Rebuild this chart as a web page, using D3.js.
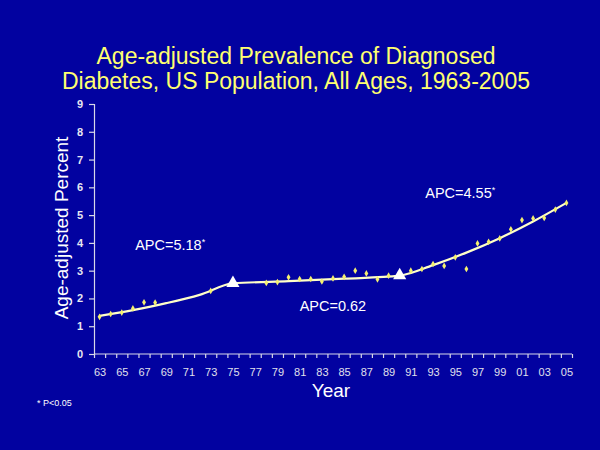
<!DOCTYPE html>
<html><head><meta charset="utf-8">
<script src="https://cdn.jsdelivr.net/npm/d3@7"></script>
<style>html,body{margin:0;padding:0;background:#0404a0;}svg{display:block;}</style>
</head><body>
<svg id="c" width="600" height="450"></svg>
<script>
// Observed age-adjusted prevalence (%)
const obsYears = [1963,1964,1965,1966,1967,1968,1973,1978,1979,1980,1981,1982,1983,1984,1985,1986,1987,1988,1989,1991,1992,1993,1994,1995,1996,1997,1998,1999,2000,2001,2002,2003,2004,2005];
const obsValues = [1.34,1.44,1.49,1.64,1.86,1.85,2.27,2.56,2.59,2.76,2.70,2.70,2.61,2.72,2.78,3.00,2.90,2.69,2.82,3.00,3.06,3.24,3.17,3.48,3.06,3.98,4.04,4.16,4.49,4.82,4.88,4.90,5.20,5.44];
// Joinpoint fitted line
const fitYears = [1963,1966,1969,1972,1975,1980,1985,1990,1993,1996,1999,2002,2005];
const fitValues = [1.37,1.58,1.83,2.13,2.54,2.62,2.71,2.82,3.20,3.65,4.17,4.77,5.44];
// Joinpoints
const jpYears = [1975,1990];
const jpValues = [2.55,2.83];
// Labels
const yTicks = [0,1,2,3,4,5,6,7,8,9];
const xLabelYears = d3.range(1963,2006,2);
const apcLabels = [
  {text:"APC=5.18", star:true, year:1966.2, value:3.75},
  {text:"APC=0.62", star:false, year:1981, value:1.55},
  {text:"APC=4.55", star:true, year:1992.3, value:5.6}
];
const titleLines = ["Age-adjusted Prevalence of Diagnosed","Diabetes, US Population, All Ages, 1963-2005"];

const svg = d3.select("#c");
const font = "'Liberation Sans', Arial, sans-serif";
svg.append("rect").attr("width",600).attr("height",450).attr("fill","#0202a0");

const x = d3.scaleLinear().domain([1962.5,2005.5]).range([94,572]);
const y = d3.scaleLinear().domain([0,9]).range([354,104]);
const axisCol = "#d8d8e8";

// Title
svg.selectAll("text.title").data(titleLines).enter().append("text")
  .attr("x",296).attr("y",(d,i)=>64+i*25).attr("text-anchor","middle")
  .attr("font-family",font).attr("font-size",23).attr("fill","#ffff70").text(d=>d);

// Y axis
const yAxis = d3.axisLeft(y).tickValues(yTicks).tickSize(5).tickPadding(6).tickFormat(d3.format("d"));
const gy = svg.append("g").attr("transform","translate(94,0)").call(yAxis);
gy.select(".domain").attr("stroke",axisCol).attr("stroke-width",1.2);
gy.selectAll(".tick line").attr("stroke",axisCol).attr("stroke-width",1.2);
gy.selectAll(".tick text").attr("fill","#e8e8f0").attr("font-family",font).attr("font-size",11).attr("font-weight","bold");

// X axis: boundaries ticks
const xAxisTicks = d3.axisBottom(x).tickValues(d3.range(1962.5,2006,1)).tickSize(4).tickFormat("");
const gx = svg.append("g").attr("transform","translate(0,354)").call(xAxisTicks);
gx.select(".domain").attr("stroke",axisCol).attr("stroke-width",1.2).attr("d","M94,0H572");
gx.selectAll(".tick line").attr("stroke",axisCol).attr("stroke-width",1.2);
const xLab = d3.axisBottom(x).tickValues(xLabelYears).tickSize(0).tickPadding(14)
  .tickFormat(d=>String(d%100).padStart(2,"0"));
const gxl = svg.append("g").attr("transform","translate(0,354)").call(xLab);
gxl.select(".domain").remove();
gxl.selectAll(".tick text").attr("fill","#e0e0ec").attr("font-family",font).attr("font-size",11);

// Axis titles
svg.append("text").attr("transform","translate(68,228) rotate(-90)").attr("text-anchor","middle")
  .attr("font-family",font).attr("font-size",19).attr("fill","#ffffff").text("Age-adjusted Percent");
svg.append("text").attr("x",331).attr("y",397).attr("text-anchor","middle")
  .attr("font-family",font).attr("font-size",19).attr("fill","#ffffff").text("Year");

// Fitted line
const line = d3.line().x((d,i)=>x(fitYears[i])).y(d=>y(d)).curve(d3.curveMonotoneX);
svg.append("path").datum(fitValues).attr("d",line).attr("fill","none")
  .attr("stroke","#ffffc8").attr("stroke-width",2.2);

// Observed points (small diamonds)
const sym = d3.symbol().type(d3.symbolDiamond).size(13);
svg.selectAll("path.pt").data(obsValues).enter().append("path")
  .attr("d",sym).attr("transform",(d,i)=>`translate(${x(obsYears[i])},${y(d)})`)
  .attr("fill","#f4f070");

// Joinpoint triangles
const tri = d3.symbol().type(d3.symbolTriangle).size(75);
svg.selectAll("path.jp").data(jpValues).enter().append("path")
  .attr("d",tri).attr("transform",(d,i)=>`translate(${x(jpYears[i])},${y(d)})`)
  .attr("fill","#ffffff");

// APC labels
apcLabels.forEach(a=>{
  const t = svg.append("text").attr("x",x(a.year)).attr("y",y(a.value))
    .attr("font-family",font).attr("font-size",14.5).attr("fill","#ffffff").text(a.text);
  if(a.star) t.append("tspan").attr("font-size",9).attr("dy",-5).text("*");
});

// Footnote
svg.append("text").attr("x",37).attr("y",406).attr("font-family",font).attr("font-size",9)
  .attr("fill","#ffffff").text("* P<0.05");
</script>
</body></html>
